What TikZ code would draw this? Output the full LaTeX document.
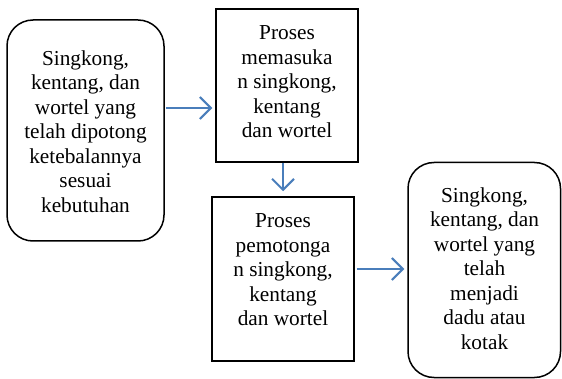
\documentclass[tikz,border=0pt]{standalone}
\usepackage{fontspec}
\setmainfont{Liberation Serif}
\usetikzlibrary{arrows.meta}
\definecolor{arrblue}{RGB}{74,126,187}
\begin{document}
\begin{tikzpicture}[x=1pt,y=-1pt,
  box/.style={draw=black,line width=1.5pt,rectangle,inner sep=0pt},
  rbox/.style={box,rounded corners=26pt},
  txt/.style={align=center,inner sep=0pt,font=\fontsize{21.3}{24.5}\selectfont},
  arr/.style={draw=arrblue,line width=2pt,-{Straight Barb[length=11pt,width=22pt,line width=2pt]}}]
\useasboundingbox (0,0) rectangle (562,379);
\node[rbox,minimum width=157pt,minimum height=221pt] (b1) at (85.5,130.5) {};
\node[box,minimum width=142pt,minimum height=153pt] (b2) at (287,85.5) {};
\node[box,minimum width=142pt,minimum height=164pt] (b3) at (283,279) {};
\node[rbox,minimum width=152.5pt,minimum height=215pt] (b4) at (484.25,270) {};
\node[txt] (t1) at (85.5,131.5) {Singkong,\\kentang, dan\\wortel yang\\telah dipotong\\ketebalannya\\sesuai\\kebutuhan};
\node[txt] (t2) at (287,82) {Proses\\memasuka\\n singkong,\\kentang\\dan wortel};
\node[txt] (t3) at (283,270) {Proses\\pemotonga\\n singkong,\\kentang\\dan wortel};
\node[txt] (t4) at (484.5,268.5) {Singkong,\\kentang, dan\\wortel yang\\telah\\menjadi\\dadu atau\\kotak};
\draw[arr] ([xshift=1pt,yshift=22.5pt]b1.east) -- ([xshift=-3pt,yshift=-22.5pt]b2.west);
\draw[arr] ([xshift=-4pt]b2.south) -- ([yshift=5pt]b3.north);
\draw[arr] ([xshift=2pt,yshift=10pt]b3.east) -- ([xshift=-3pt,yshift=1pt]b4.west);
\end{tikzpicture}
\end{document}
